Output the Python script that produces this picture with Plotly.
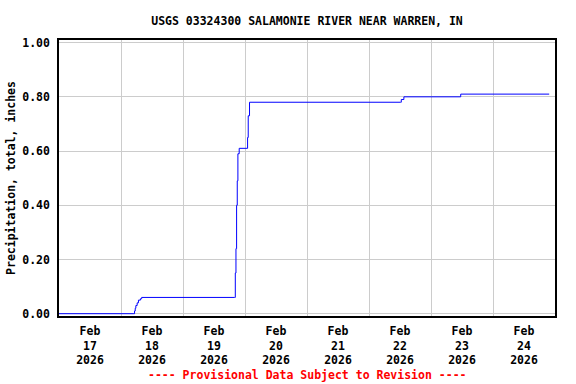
import plotly.graph_objects as go

times = [
    "2026-02-17 00:00", "2026-02-18 05:00", "2026-02-18 05:15", "2026-02-18 05:30",
    "2026-02-18 05:45", "2026-02-18 06:15", "2026-02-18 06:45", "2026-02-18 07:30",
    "2026-02-18 08:00", "2026-02-19 20:00", "2026-02-19 20:15", "2026-02-19 20:30",
    "2026-02-19 20:45", "2026-02-19 21:00", "2026-02-19 21:15", "2026-02-19 21:45",
    "2026-02-20 00:45", "2026-02-20 01:00", "2026-02-20 01:15", "2026-02-20 01:45",
    "2026-02-22 12:15", "2026-02-22 12:30", "2026-02-22 13:30", "2026-02-23 11:15",
    "2026-02-23 11:30", "2026-02-24 21:45",
]
values = [
    0.00, 0.00, 0.01, 0.02,
    0.03, 0.04, 0.05, 0.055,
    0.06, 0.06, 0.15, 0.24,
    0.40, 0.49, 0.59, 0.61,
    0.61, 0.65, 0.73, 0.78,
    0.78, 0.79, 0.80, 0.80,
    0.81, 0.81,
]

tick_days = ["17", "18", "19", "20", "21", "22", "23", "24"]
tick_vals = [f"2026-02-{d} 12:00" for d in tick_days]
tick_text = [f"Feb<br>{d}<br>2026" for d in tick_days]
y_ticks = [0.0, 0.2, 0.4, 0.6, 0.8, 1.0]

FONT = "DejaVu Sans Mono"

fig = go.Figure()
fig.add_trace(go.Scatter(
    x=times, y=values, mode="lines", line_shape="hv",
    line=dict(color="#0000ff", width=1), hoverinfo="skip",
))

fig.update_layout(
    width=576, height=384,
    margin=dict(l=59, r=21, t=40, b=68, autoexpand=False),
    paper_bgcolor="white", plot_bgcolor="white",
    showlegend=False,
    font=dict(family=FONT, size=11.5, color="black"),
    title=dict(
        text="<b>USGS 03324300 SALAMONIE RIVER NEAR WARREN, IN</b>",
        x=(59 + 555) / 2 / 576, xanchor="center", y=1 - 20.5 / 384, yanchor="middle",
        font=dict(family=FONT, size=11.5, color="black"),
    ),
    xaxis=dict(
        range=["2026-02-17 00:00", "2026-02-25 00:00"],
        tickmode="array", tickvals=tick_vals, ticktext=[f"<b>{t}</b>" for t in tick_text],
        showgrid=False, ticks="", zeroline=False, automargin=False,
        showline=True, linecolor="black", linewidth=1.5, mirror=True,
        minor=dict(tick0="2026-02-17", dtick=86400000, showgrid=True,
                   gridcolor="#cccccc", gridwidth=1, ticks=""),
        tickfont=dict(family=FONT, size=11.5),
        ticklabelstandoff=3,
    ),
    yaxis=dict(
        range=[-0.0085, 1.0096],
        tickmode="array", tickvals=y_ticks,
        ticktext=[f"<b>{v:.2f}</b>" for v in y_ticks],
        showgrid=True, gridcolor="#cccccc", gridwidth=1, zeroline=False,
        showline=True, linecolor="black", linewidth=1.5, mirror=True,
        ticks="", ticklen=0, automargin=False,
        title=dict(text="<b>Precipitation, total, inches</b>", standoff=4,
                   font=dict(family=FONT, size=11.5)),
        tickfont=dict(family=FONT, size=11.5),
        ticklabelstandoff=5,
    ),
)

fig.add_annotation(
    text="<b>---- Provisional Data Subject to Revision ----</b>",
    xref="paper", yref="paper", x=0.5, y=-(375 - 316) / 276, yanchor="middle",
    showarrow=False, font=dict(family=FONT, size=11.5, color="red"),
)

fig.write_html(
    "out.html",
    config={"displayModeBar": False},
    post_script="document.body.style.margin='0';document.body.style.padding='0';",
)
